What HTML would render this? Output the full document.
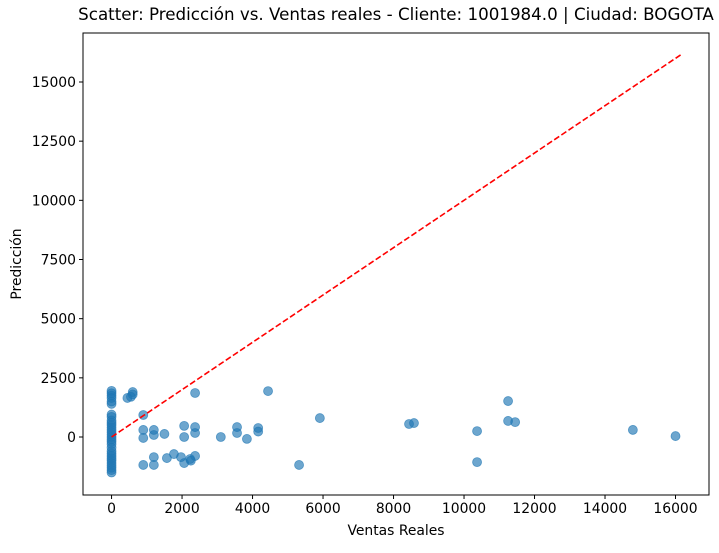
<!DOCTYPE html>
<html><head><meta charset="utf-8"><style>
body{margin:0;background:#fff;}
svg{font-family:"DejaVu Sans","Liberation Sans",sans-serif;}
</style></head><body>
<svg id="chart" width="719" height="548" xmlns="http://www.w3.org/2000/svg"></svg>
<script>
const xTicks=[0,2000,4000,6000,8000,10000,12000,14000,16000];
const yTicks=[0,2500,5000,7500,10000,12500,15000];
const actual=[0,0,0,0,0,0,0,0,0,0,0,0,0,0,0,0,0,0,0,0,0,0,0,0,0,0,0,0,0,0,
 450,550,600,600,
 900,900,900,900,1200,1200,1200,1200,1500,1570,1770,2060,2060,1970,2060,2230,2370,2370,2370,2370,2250,
 3100,3560,3560,3840,4160,4160,4440,5320,5910,8440,8580,10370,10370,11250,11250,11450,14790,16000];
const predicted=[1950,1850,1750,1650,1500,1400,950,850,700,600,500,400,300,200,100,0,-100,-200,-300,-450,-600,-700,-800,-900,-1000,-1100,-1200,-1300,-1400,-1500,
 1650,1700,1800,1900,
 930,300,-40,-1180,300,85,-850,-1180,130,-890,-720,470,0,-850,-1100,-930,1860,420,170,-800,-1000,
 0,420,170,-80,380,230,1940,-1180,800,550,590,250,-1060,1520,680,630,300,40];
const lineMin=0, lineMax=16200;
const L=83,R=709,T=33,B=495;
const xMin=-810,xMax=16950,yMin=-2450,yMax=17070;
const sx=v=>L+(v-xMin)/(xMax-xMin)*(R-L);
const sy=v=>B-(v-yMin)/(yMax-yMin)*(B-T);
const svg=document.getElementById('chart');
const NS='http://www.w3.org/2000/svg';
function mk(tag,attrs,parent){const e=document.createElementNS(NS,tag);for(const k in attrs)e.setAttribute(k,attrs[k]);(parent||svg).appendChild(e);return e;}
const pts=mk('g',{});


for(let i=0;i<actual.length;i++){
 const c=mk('circle',{cx:sx(actual[i]),cy:sy(predicted[i]),r:4.5,fill:'#1f77b4','fill-opacity':0.65,stroke:'#1f77b4','stroke-opacity':0.65,'stroke-width':0.8},pts);
 
 
}
const ln=mk('line',{x1:sx(lineMin),y1:sy(lineMin),x2:sx(lineMax),y2:sy(lineMax),stroke:'#ff0000','stroke-width':1.6,'stroke-dasharray':'6,2.6'});


const fr=mk('rect',{x:L,y:T,width:R-L,height:B-T,fill:'none',stroke:'#000','stroke-width':1});


xTicks.forEach(v=>{
 mk('line',{x1:sx(v),x2:sx(v),y1:B,y2:B+4,stroke:'#000'});
 const t=mk('text',{x:sx(v),y:B+18,'font-size':13.9,'text-anchor':'middle'});t.textContent=v;
 
 
});
yTicks.forEach(v=>{
 mk('line',{x1:L-4,x2:L,y1:sy(v),y2:sy(v),stroke:'#000'});
 const t=mk('text',{x:L-7,y:sy(v)+5,'font-size':13.9,'text-anchor':'end'});t.textContent=v;
 
 
});
</script>
<svg style="position:absolute;left:0;top:0" width="719" height="548" xmlns="http://www.w3.org/2000/svg">
<text x="396" y="20" font-size="16.7" text-anchor="middle" font-family="DejaVu Sans, Liberation Sans, sans-serif">Scatter: Predicción vs. Ventas reales - Cliente: 1001984.0 | Ciudad: BOGOTA</text>
<text x="396" y="535" font-size="13.9" text-anchor="middle" font-family="DejaVu Sans, Liberation Sans, sans-serif">Ventas Reales</text>
<text x="21" y="264" font-size="13.9" text-anchor="middle" transform="rotate(-90 21 264)" font-family="DejaVu Sans, Liberation Sans, sans-serif">Predicción</text>
</svg>
</body></html>
